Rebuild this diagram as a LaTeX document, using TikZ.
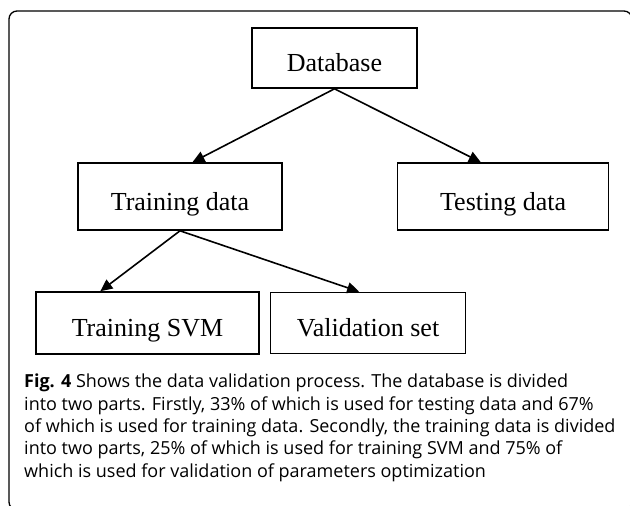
\documentclass[tikz,border=0pt]{standalone}
\usepackage{fontspec}
\setmainfont{Liberation Serif}
\newfontfamily\capfont{Open Sans}
\usepackage{tikz}
\usetikzlibrary{arrows.meta,positioning}

\begin{document}
\begin{tikzpicture}[
  x=1pt, y=-1pt,
  box/.style={draw, line width=1.6pt, inner sep=0pt, align=center, text height=27pt, text depth=0pt, font=\fontsize{26}{30}\selectfont},
  arrow/.style={-{Triangle[length=12pt,width=11pt]}, line width=1.6pt}
]
\clip (0,0) rectangle (630,506);

% Frame
\draw[line width=1.3pt, rounded corners=8pt] (9,11) rectangle (632,510);

% Nodes
\node[box, minimum width=165pt, minimum height=60pt] (db) at (334.5,58) {Database};
\node[box, minimum width=204pt, minimum height=67pt] (train) at (180,196.5) {Training data};
\node[box, minimum width=211pt, minimum height=67pt, right=114pt of train] (test) {Testing data};
\node[box, minimum width=223pt, minimum height=62pt] (svm) at (147.5,323) {Training SVM};
\node[box, minimum width=195pt, minimum height=61pt, right=10pt of svm] (valid) {Validation set};

% Arrows
\draw[arrow] (db.south) -- (train.70);
\draw[arrow] (db.south) -- (test.123);
\draw[arrow] (train.south) -- (svm.146);
\draw[arrow] (train.south) -- (valid.106);

% Caption
\node[anchor=north west, align=left, inner sep=0pt, font=\capfont\fontsize{18}{22.3}\selectfont] (caption) at (24,374)
  {\textbf{Fig. 4} Shows the data validation process. The database is divided\\
   into two parts. Firstly, 33\% of which is used for testing data and 67\%\\
   of which is used for training data. Secondly, the training data is divided\\
   into two parts, 25\% of which is used for training SVM and 75\% of\\
   which is used for validation of parameters optimization};

\end{tikzpicture}
\end{document}
